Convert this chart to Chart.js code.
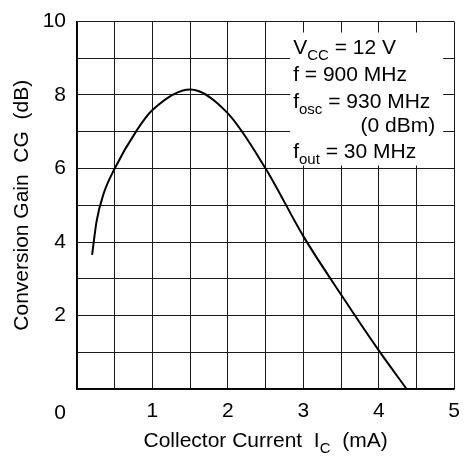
<!DOCTYPE html>
<html>
<head>
<meta charset="utf-8">
<script src="https://cdn.jsdelivr.net/npm/chart.js@4.4.1/dist/chart.umd.min.js"></script>
<style>
    html, body { margin: 0; padding: 0; background: #fff; }
    canvas { display: block; }
</style>
</head>
<body>
<canvas id="chartGain" width="472" height="461"></canvas>
<script>
// values
let currentIC = [0.2, 0.26, 0.35, 0.5, 0.79, 1.0, 1.5, 2.0, 2.5, 3.0, 3.5, 4.0, 4.37];
let gainCG = [3.65, 4.57, 5.3, 6.0, 7.03, 7.59, 8.15, 7.5, 6.0, 4.16, 2.57, 1.05, 0];

let xLabels = [1, 2, 3, 4, 5];
let yLabels = [2, 4, 6, 8, 10];

let xTitle = ['Collector Current  I', 'C', '  (mA)'];
let yTitle = 'Conversion Gain  CG  (dB)';

// conditions box: [text, subscript, rest]
let conditions = [
    ['V', 'CC', ' = 12 V'],
    ['f = 900 MHz', '', ''],
    ['f', 'osc', ' = 930 MHz'],
    ['(0 dBm)', '', ''],
    ['f', 'out', ' = 30 MHz']
];

let fontFamily = "'Liberation Sans', Arial, sans-serif";

let points = [];
for (let i = 0; i < currentIC.length; i++) {
    points.push({ x: currentIC[i], y: gainCG[i] });
}

// draws text with a subscript, returns width
let drawSub = (ctx, x, y, main, sub, rest, doDraw) => {
    let w = 0;
    ctx.font = '21px ' + fontFamily;
    if (doDraw) ctx.fillText(main, x, y);
    w += ctx.measureText(main).width;
    if (sub) {
        ctx.font = '15px ' + fontFamily;
        if (doDraw) ctx.fillText(sub, x + w, y + 6);
        w += ctx.measureText(sub).width;
    }
    ctx.font = '21px ' + fontFamily;
    if (rest) {
        if (doDraw) ctx.fillText(rest, x + w, y);
        w += ctx.measureText(rest).width;
    }
    return w;
};

let textPlugin = {
    id: 'textPlugin',
    afterDraw: (chart) => {
        let ctx = chart.ctx;
        let area = chart.chartArea;
        ctx.save();
        ctx.fillStyle = '#fff';
        ctx.fillRect(area.right - 164, area.top + 11, 153, 133);

        ctx.fillStyle = '#000';
        ctx.textAlign = 'left';
        ctx.textBaseline = 'alphabetic';

        let left = area.right - 161;
        let rightEdge = area.right - 19;
        let baselines = [32, 59, 86, 110, 136];
        for (let i = 0; i < conditions.length; i++) {
            let c = conditions[i];
            let y = area.top + baselines[i];
            if (c[0] == '(0 dBm)') {
                let w = drawSub(ctx, 0, 0, c[0], c[1], c[2], false);
                drawSub(ctx, rightEdge - w, y, c[0], c[1], c[2], true);
            } else {
                drawSub(ctx, left, y, c[0], c[1], c[2], true);
            }
        }

        // x title
        let xs = chart.scales.x;
        let cx = (area.left + area.right) / 2;
        let tw = drawSub(ctx, 0, 0, xTitle[0], xTitle[1], xTitle[2], false);
        drawSub(ctx, cx - tw / 2, area.bottom + 58, xTitle[0], xTitle[1], xTitle[2], true);

        // shared origin label
        ctx.font = '21px ' + fontFamily;
        ctx.textAlign = 'center';
        ctx.fillText('0', xs.getPixelForValue(0) - 17, area.bottom + 30);

        // y title
        ctx.translate(28, (area.top + area.bottom) / 2);
        ctx.rotate(-Math.PI / 2);
        ctx.fillText(yTitle, 0, 0);
        ctx.restore();
    }
};

let contextGain = document.querySelector('#chartGain').getContext('2d');

let config = {
    type: 'line',
    data: {
        datasets: [{
            data: points,
            borderColor: '#000',
            borderWidth: 2,
            pointRadius: 0,
            fill: false,
            cubicInterpolationMode: 'monotone'
        }]
    },
    options: {
        responsive: false,
        animation: false,
        devicePixelRatio: 1,
        layout: {
            padding: { top: 11, right: 17, left: 0, bottom: 0 }
        },
        plugins: {
            legend: { display: false },
            tooltip: { enabled: false }
        },
        scales: {
            x: {
                type: 'linear',
                min: 0,
                max: 5,
                afterFit: (s) => { s.height = 72; },
                grid: { color: '#1a1a1a', lineWidth: 1, drawTicks: false },
                border: { color: '#000', width: 1.5 },
                ticks: {
                    stepSize: 0.5,
                    autoSkip: false,
                    maxRotation: 0,
                    padding: 12,
                    color: '#000',
                    font: { family: fontFamily, size: 21, lineHeight: 1 },
                    callback: (v) => xLabels.includes(v) ? String(v) : ''
                }
            },
            y: {
                min: 0,
                max: 10,
                afterFit: (s) => { s.width = 77; },
                grid: { color: '#1a1a1a', lineWidth: 1, drawTicks: false },
                border: { color: '#000', width: 1.5 },
                ticks: {
                    stepSize: 1,
                    autoSkip: false,
                    padding: 11,
                    color: '#000',
                    font: { family: fontFamily, size: 21, lineHeight: 1 },
                    callback: (v) => yLabels.includes(v) ? String(v) : ''
                }
            }
        }
    },
    plugins: [textPlugin]
};

let chartGain = new Chart(contextGain, config);
</script>
</body>
</html>
